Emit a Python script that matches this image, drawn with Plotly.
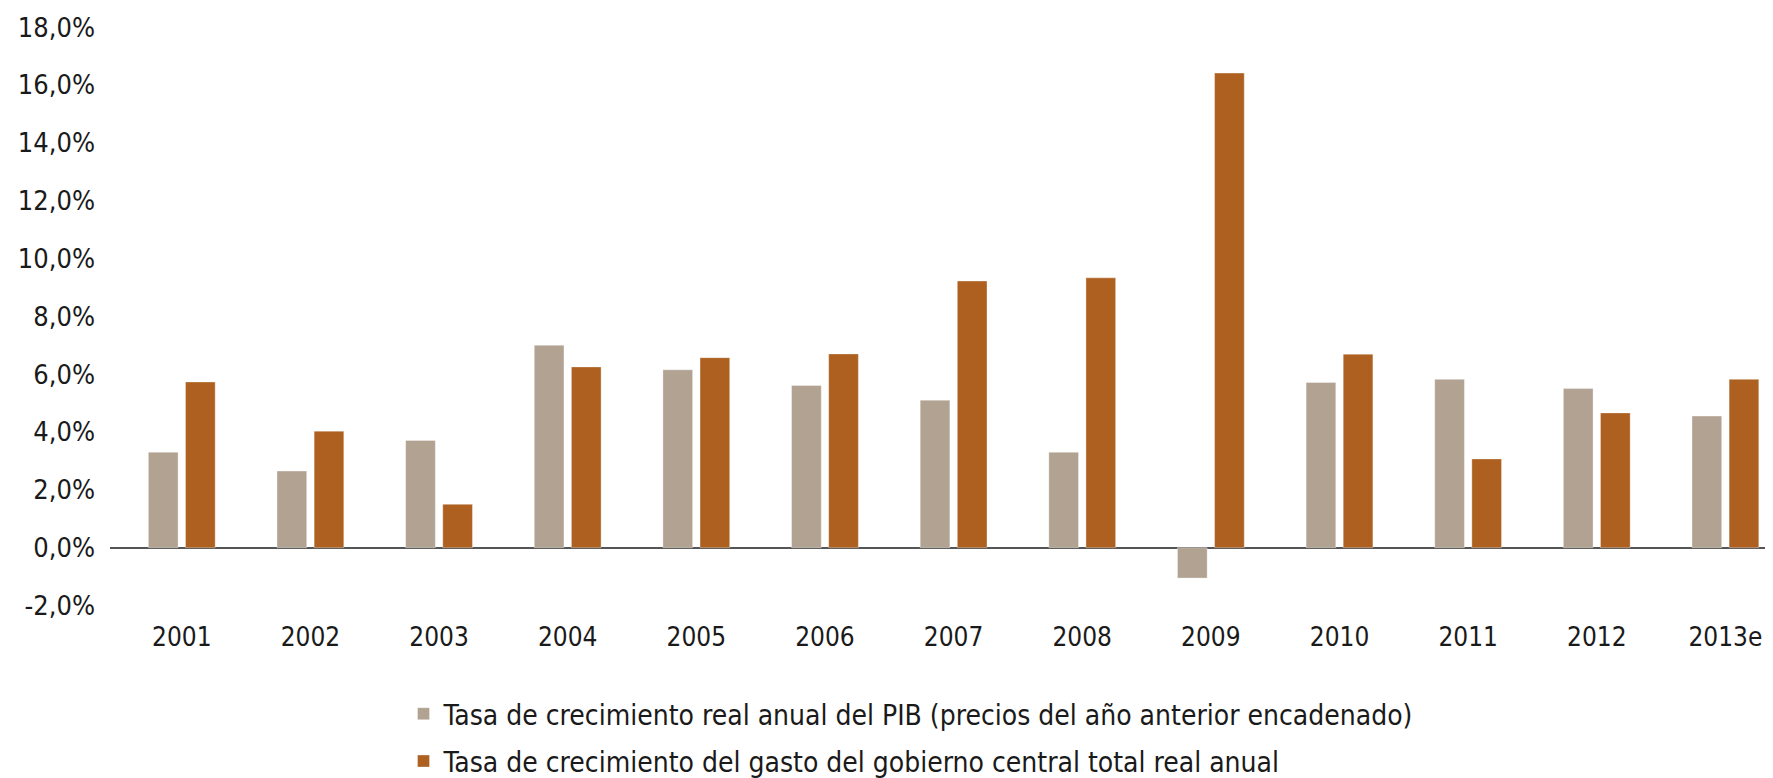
import plotly.graph_objects as go

years = ["2001", "2002", "2003", "2004", "2005", "2006", "2007",
         "2008", "2009", "2010", "2011", "2012", "2013e"]
pib_growth = [3.30, 2.65, 3.71, 7.00, 6.15, 5.61, 5.10,
              3.30, -1.05, 5.71, 5.82, 5.50, 4.55]
gasto_growth = [5.73, 4.03, 1.50, 6.25, 6.57, 6.70, 9.22,
                9.33, 16.41, 6.69, 3.07, 4.66, 5.82]
ytick_vals = [-2, 0, 2, 4, 6, 8, 10, 12, 14, 16, 18]
ytick_text = ["-2,0%", "0,0%", "2,0%", "4,0%", "6,0%", "8,0%",
              "10,0%", "12,0%", "14,0%", "16,0%", "18,0%"]
name_pib = "Tasa de crecimiento real anual del PIB (precios del año anterior encadenado)"
name_gasto = "Tasa de crecimiento del gasto del gobierno central total real anual"

FONT = "Liberation Sans Narrow, DejaVu Sans Condensed, Arial Narrow, sans-serif"
GRAY = "#B1A292"
ORANGE = "#AD6020"

fig = go.Figure()
fig.add_trace(go.Bar(x=years, y=pib_growth, name=name_pib, legendgroup="pib",
                     marker=dict(color=GRAY, line=dict(color="rgba(255,255,255,0.35)", width=1))))
fig.add_trace(go.Bar(x=years, y=gasto_growth, name=name_gasto, legendgroup="gasto",
                     marker=dict(color=ORANGE, line=dict(color="rgba(255,255,255,0.35)", width=1))))

fig.update_layout(
    width=1765, height=770,
    margin=dict(l=102, r=0, t=2, b=158, autoexpand=False),
    paper_bgcolor="white", plot_bgcolor="white",
    barmode="group", bargap=0.423, bargroupgap=0.2,
    font=dict(family=FONT, size=28, color="#1a1a1a"),
    showlegend=True,
    legend=dict(orientation="v", x=0.1765, xanchor="left", y=-0.113, yanchor="top",
                font=dict(family=FONT, size=28, color="#1a1a1a"),
                bgcolor="rgba(0,0,0,0)", itemwidth=30, tracegroupgap=8),
    xaxis=dict(range=[-0.558, 12.37], showgrid=False, showline=False, zeroline=False,
               ticks="", ticklabelstandoff=-1, tickfont=dict(family=FONT, size=26),
               fixedrange=True),
    yaxis=dict(range=[-2.5, 18.59], tickvals=ytick_vals, ticktext=ytick_text,
               showgrid=False, showline=False, zeroline=True, zerolinecolor="#555555",
               zerolinewidth=2, ticks="", ticklabelstandoff=14,
               tickfont=dict(family=FONT, size=27)),
)

fig.write_html("out.html")
